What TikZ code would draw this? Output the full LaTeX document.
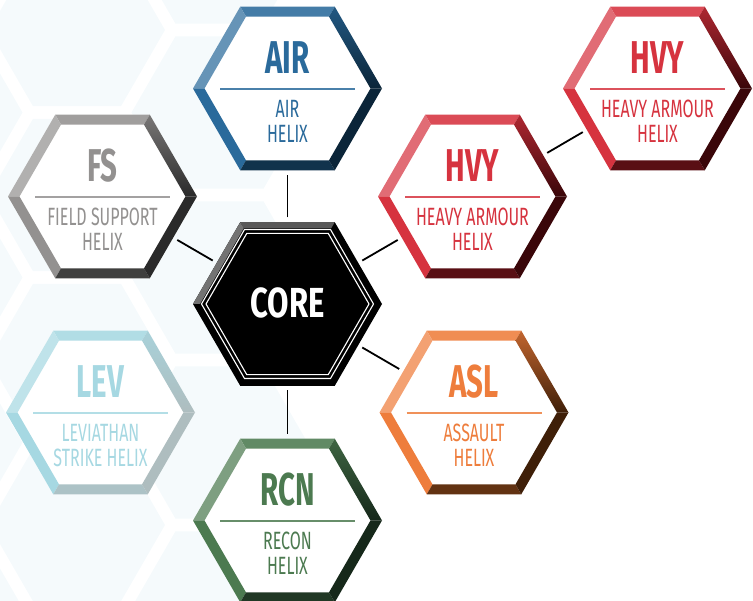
\documentclass[tikz,border=0pt]{standalone}
\usepackage{fontspec}
\newfontfamily\hexfont[FakeStretch=0.64]{Fira Sans}
\newfontfamily\corefont[FakeStretch=0.74]{Fira Sans}
\usetikzlibrary{calc}
\definecolor{airblue}{HTML}{2A6A9B}
\definecolor{airdark}{HTML}{0B2539}
\definecolor{fsgray}{HTML}{939190}
\definecolor{fsdark}{HTML}{2A2A2A}
\definecolor{hvyred}{HTML}{D6333F}
\definecolor{hvydark}{HTML}{3A0609}
\definecolor{aslorange}{HTML}{EE7D3C}
\definecolor{asldark}{HTML}{3F1F08}
\definecolor{rcngreen}{HTML}{4C7A50}
\definecolor{rcndark}{HTML}{16281A}
\definecolor{levcyan}{HTML}{A6D8E2}
\definecolor{levdark}{HTML}{AEBDBF}
\definecolor{bgcell}{HTML}{F5FAFC}
\tikzset{
hexcell/.style={circle, minimum size=173pt, inner sep=0pt, outer sep=0pt},
link/.style={line width=1.8pt, black},
hextitle/.style={anchor=base, inner sep=0pt, font=\hexfont\bfseries\fontsize{46}{46}\selectfont},
hexsub/.style={align=center, inner sep=0pt, font=\hexfont\fontsize{25}{25}\selectfont},
sepline/.style={line width=1.2pt},
}
% #1 name, #2 position, #3 colour, #4 dark colour, #5 title, #6 subtitle
\newcommand{\hexunit}[6]{%
  \node[hexcell] (#1) at (#2) {};
  \begin{scope}[shift={(#1.center)}]
    \fill[white] (0:94.5pt) \foreach \a in {60,120,...,300} {-- (\a:94.5pt)} -- cycle;
    \foreach \a/\c in {60/#3!88!white, 120/#3!72!white, 180/#3, 240/#4!80!#3, 300/#4}
      \fill[\c] (\a:94.5pt) -- (\a+60:94.5pt) -- (\a+60:83pt) -- (\a:83pt) -- cycle;
    \shade[top color=#3!75!#4, bottom color=#4] (0:94.5pt) -- (60:94.5pt) -- (60:83pt) -- (0:83pt) -- cycle;
  \end{scope}
  \node[hextitle, text=#3] (#1-t) at ($(#1)+(0,-14.5)$) {#5};
  \draw[sepline, #3!85!white] ($(#1)+(-67.5,0.5)$) -- ($(#1)+(67.5,0.5)$);
  \node[hexsub, text=#3] (#1-s) at ($(#1)+(0,33)$) {#6};
}
\begin{document}
\begin{tikzpicture}[x=1pt, y=-1pt]
\useasboundingbox (0,0) rectangle (753,601);
% faint honeycomb behind
\foreach \i in {-1,0,1} \foreach \j in {-1,0,...,3} {
  \pgfmathsetmacro\cx{77+142.5*\i}
  \pgfmathsetmacro\cy{30+165*\j+82.5*mod(abs(\i),2)}
  \begin{scope}[shift={(\cx,\cy)}]
    \fill[bgcell] (0:88pt) \foreach \a in {60,120,...,300} {-- (\a:88pt)} -- cycle;
  \end{scope}
}
\hexunit{air}{287.5,88.5}{airblue}{airdark}{AIR}{AIR\\HELIX}
\hexunit{fs}{102.5,196.5}{fsgray}{fsdark}{FS}{FIELD SUPPORT\\HELIX}
\hexunit{hvy}{472.5,196.5}{hvyred}{hvydark}{HVY}{HEAVY ARMOUR\\HELIX}
\hexunit{hvyb}{657.5,88.5}{hvyred}{hvydark}{HVY}{HEAVY ARMOUR\\HELIX}
\hexunit{lev}{100.5,412.5}{levcyan}{levdark}{LEV}{LEVIATHAN\\STRIKE HELIX}
\hexunit{asl}{474,412.5}{aslorange}{asldark}{ASL}{ASSAULT\\HELIX}
\hexunit{rcn}{287.5,520.5}{rcngreen}{rcndark}{RCN}{RECON\\HELIX}
% core
\node[hexcell] (core) at (287.5,304) {};
\begin{scope}[shift={(core.center)}]
  \fill[black] (0:94.5pt) \foreach \a in {60,120,...,300} {-- (\a:94.5pt)} -- cycle;
  \foreach \a/\c in {60/black!65, 120/black!55}
    \fill[\c] (\a:94.5pt) -- (\a+60:94.5pt) -- (\a+60:87.5pt) -- (\a:87.5pt) -- cycle;
  \draw[white, line width=1.1pt] (0:86pt) \foreach \a in {60,120,...,300} {-- (\a:86pt)} -- cycle;
  \draw[white, line width=1.1pt] (0:81.5pt) \foreach \a in {60,120,...,300} {-- (\a:81.5pt)} -- cycle;
\end{scope}
\node[inner sep=0pt, text=white, font=\corefont\bfseries\fontsize{42}{42}\selectfont] (core-t) at ($(core)+(0,-1.5)$) {CORE};
% links
\draw[link] (core) -- (air);
\draw[link] (core) -- (fs);
\draw[link] (core) -- (hvy);
\draw[link] (core) -- (asl);
\draw[link] (core) -- (rcn);
\draw[link] (hvy) -- (hvyb);
\end{tikzpicture}
\end{document}
